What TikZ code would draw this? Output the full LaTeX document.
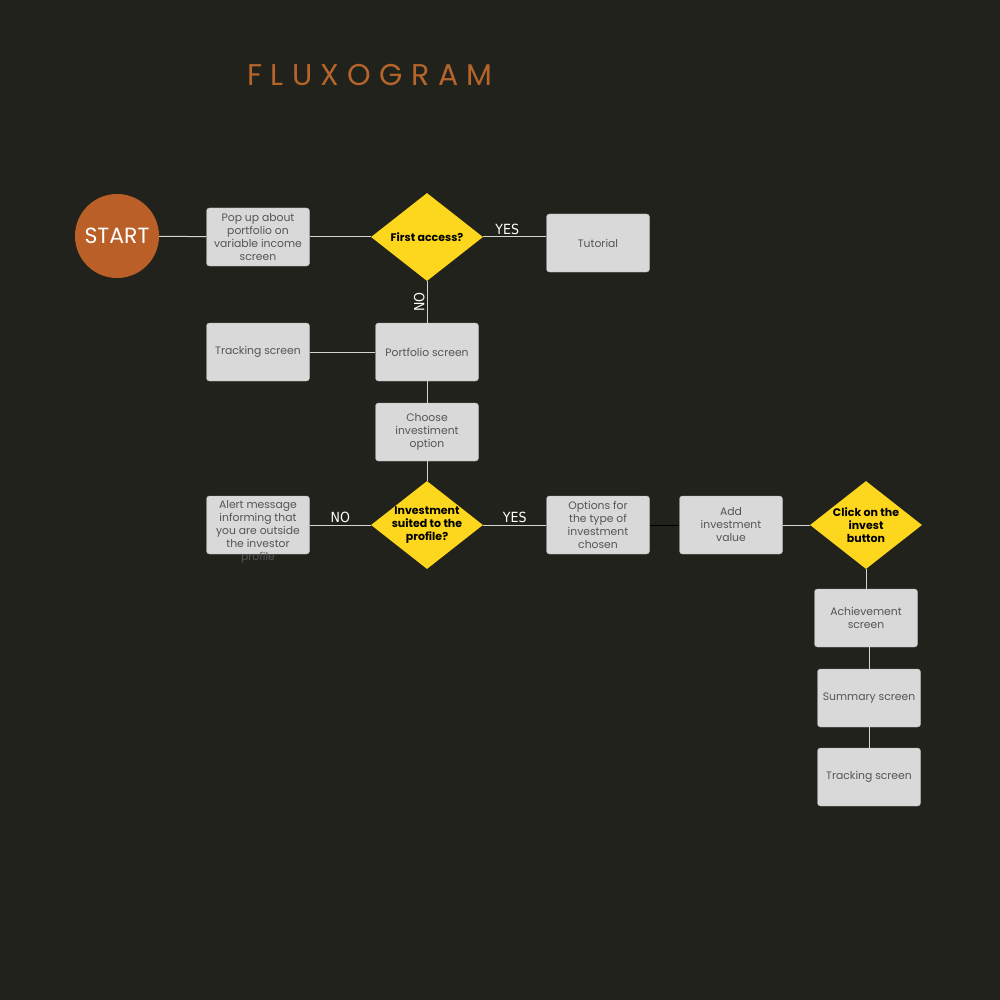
\documentclass[tikz,border=0pt]{standalone}
\usepackage{fontspec}
\setmainfont{Poppins}
\newfontfamily\titlefont[LetterSpace=28]{Poppins}
\newfontfamily\answerfont{DejaVu Sans Condensed}
\usetikzlibrary{shapes.geometric, positioning}
\definecolor{darkbg}{HTML}{22221C}
\definecolor{startorange}{HTML}{BA5F27}
\definecolor{titleorange}{HTML}{B5652A}
\definecolor{boxgray}{HTML}{D9D9D9}
\definecolor{boxtext}{HTML}{555555}
\definecolor{decisionyellow}{HTML}{FDD71D}
\definecolor{linegray}{HTML}{D4D4D4}

\begin{document}
\begin{tikzpicture}[x=1pt, y=-1pt,
  screen/.style={rectangle, rounded corners=3pt, fill=boxgray, draw=boxgray!85!black, line width=0.4pt, minimum width=103pt, minimum height=58pt, align=center, inner sep=0pt, text=boxtext, font=\fontsize{10.8}{13}\selectfont},
  decision/.style={diamond, aspect=1.27, fill=decisionyellow, minimum width=112pt, minimum height=88pt, inner sep=-5pt, align=center, text=black, font=\fontsize{11}{13}\selectfont\bfseries},
  link/.style={draw=linegray, line width=1pt},
  answer/.style={text=white, inner sep=2pt, font=\answerfont\fontsize{14}{14}\selectfont}]
  \fill[darkbg] (0,0) rectangle (1000,1000);
  \useasboundingbox (0,0) rectangle (1000,1000);

  \node[text=titleorange, font=\titlefont\fontsize{30}{30}\selectfont] (title) at (370,75) {FLUXOGRAM};

  % first row
  \node[circle, fill=startorange, minimum size=84pt, inner sep=0pt, text=white, font=\fontsize{22}{22}\selectfont] (start) at (117,236) {START};
  \node[screen] (popup) at (258,237) {Pop up about\\portfolio on\\variable income\\screen};
  \node[decision] (first) at (427,237) {First access?};
  \node[screen] (tutorial) at (598,243) {Tutorial};

  % portfolio column
  \node[screen] (portfolio) at (427,352) {Portfolio screen};
  \node[screen] (tracking) at (258,352) {Tracking screen};
  \node[screen] (choose) at (427,432) {Choose\\investiment\\option};

  % investment row
  \node[decision] (suited) at (427,525) {Investment\\suited to the\\profile?};
  \node[screen] (alert) at (258,525) {};
  \node[align=center, inner sep=0pt, text=boxtext, font=\fontsize{10.8}{13}\selectfont] (alerttext) at (258,532) {Alert message\\informing that\\you are outside\\the investor\\profile};
  \node[screen] (options) at (598,525) {Options for\\the type of\\investment\\chosen};
  \node[screen] (addvalue) at (731,525) {Add\\investment\\value};
  \node[decision] (invest) at (866,525) {Click on the\\invest\\button};

  % final column
  \node[screen] (achievement) at (866,618) {Achievement\\screen};
  \node[screen] (summary) at (869,698) {Summary screen};
  \node[screen] (tracking2) at (869,777) {Tracking screen};

  \draw[link] (start) -- (popup);
  \draw[link] (popup) -- (first);
  \draw[link] (first.east) -- node[answer, above, pos=0.38] {YES} (first.east -| tutorial.west);
  \draw[link] (first) -- node[answer, rotate=90, above] {NO} (portfolio);
  \draw[link] (tracking) -- (portfolio);
  \draw[link] (portfolio) -- (choose);
  \draw[link] (choose) -- (suited);
  \draw[link] (suited) -- node[answer, above] {NO} (alert);
  \draw[link] (suited) -- node[answer, above] {YES} (options);
  \draw[black, line width=1pt] (options) -- (addvalue);
  \draw[link] (addvalue) -- (invest);
  \draw[link] (invest) -- (achievement);
  \draw[link] (achievement.south -| summary.north) -- (summary);
  \draw[link] (summary) -- (tracking2);
\end{tikzpicture}
\end{document}
